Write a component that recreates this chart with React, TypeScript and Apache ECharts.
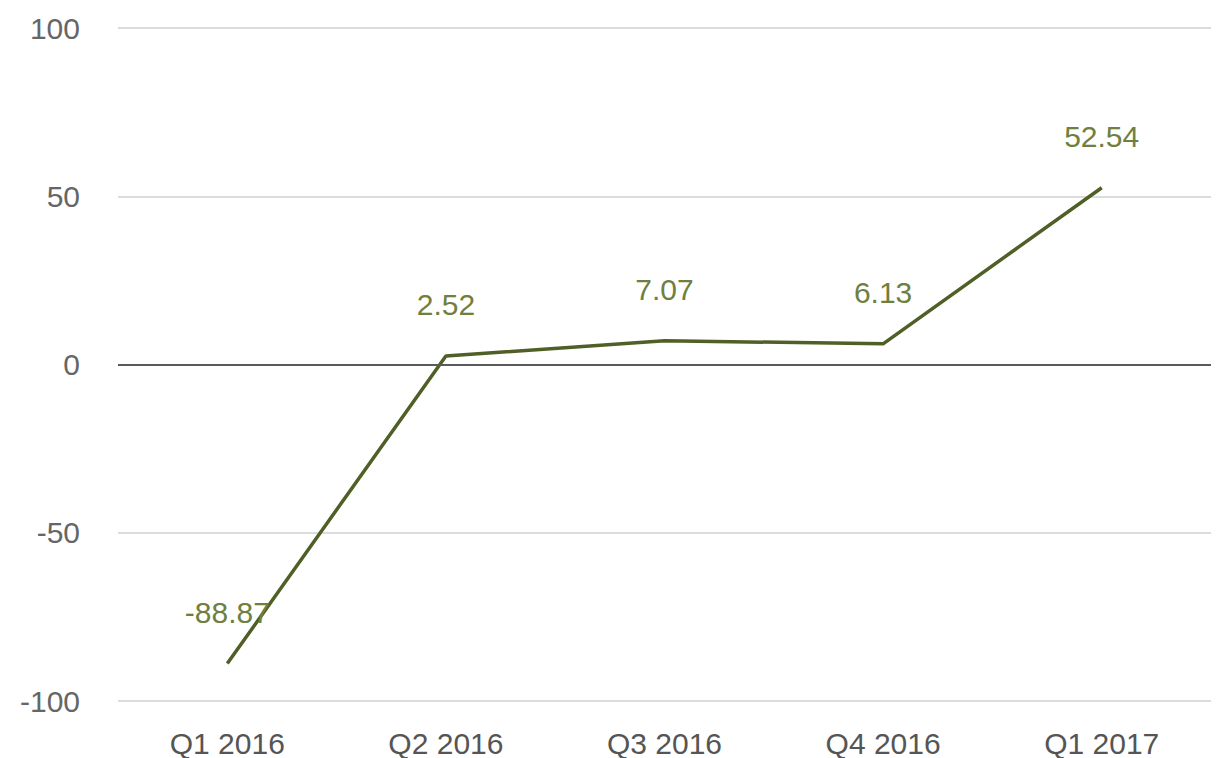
import React, { useEffect, useRef } from "react";
import * as echarts from "echarts";

const categories = ["Q1 2016", "Q2 2016", "Q3 2016", "Q4 2016", "Q1 2017"];
const values = [-88.87, 2.52, 7.07, 6.13, 52.54];
const yTicks = { min: -100, max: 100, interval: 50 };

export default function App() {
  const ref = useRef<HTMLDivElement>(null);
  useEffect(() => {
    if (!ref.current) return;
    const chart = echarts.init(ref.current, null, { renderer: "svg" });
    const font = "Liberation Sans, Arial, sans-serif";
    chart.setOption({
      animation: false,
      backgroundColor: "#ffffff",
      grid: { left: 118, right: 6, top: 28, bottom: 55, containLabel: false },
      xAxis: {
        type: "category",
        data: categories,
        boundaryGap: true,
        axisLine: { show: false, onZero: false },
        axisTick: { show: false },
        splitLine: { show: false },
        axisLabel: { color: "#555555", fontSize: 30, fontFamily: font, margin: 27 },
      },
      yAxis: {
        type: "value",
        min: yTicks.min,
        max: yTicks.max,
        interval: yTicks.interval,
        axisLine: { show: false },
        axisTick: { show: false },
        splitLine: { lineStyle: { color: "#dcdcdc", width: 2 } },
        axisLabel: { color: "#666666", fontSize: 30, fontFamily: font, margin: 38 },
      },
      series: [
        {
          type: "line",
          data: values,
          symbol: "circle",
          symbolSize: 1,
          showSymbol: true,
          itemStyle: { color: "rgba(0,0,0,0)", borderWidth: 0 },
          lineStyle: { color: "#4f5f26", width: 3.5 },
          label: {
            show: true,
            position: "top",
            distance: 36,
            color: "#707f40",
            fontSize: 30,
            fontFamily: font,
            formatter: (p: any) => Number(p.value).toFixed(2),
          },
          markLine: {
            silent: true,
            symbol: "none",
            label: { show: false },
            lineStyle: { color: "#5a5a5a", width: 2, type: "solid" },
            data: [{ yAxis: 0 }],
          },
          z: 3,
        },
      ],
    });
    return () => chart.dispose();
  }, []);
  return <div ref={ref} style={{ width: 1217, height: 758, position: "fixed", left: 0, top: 0 }} />;
}
